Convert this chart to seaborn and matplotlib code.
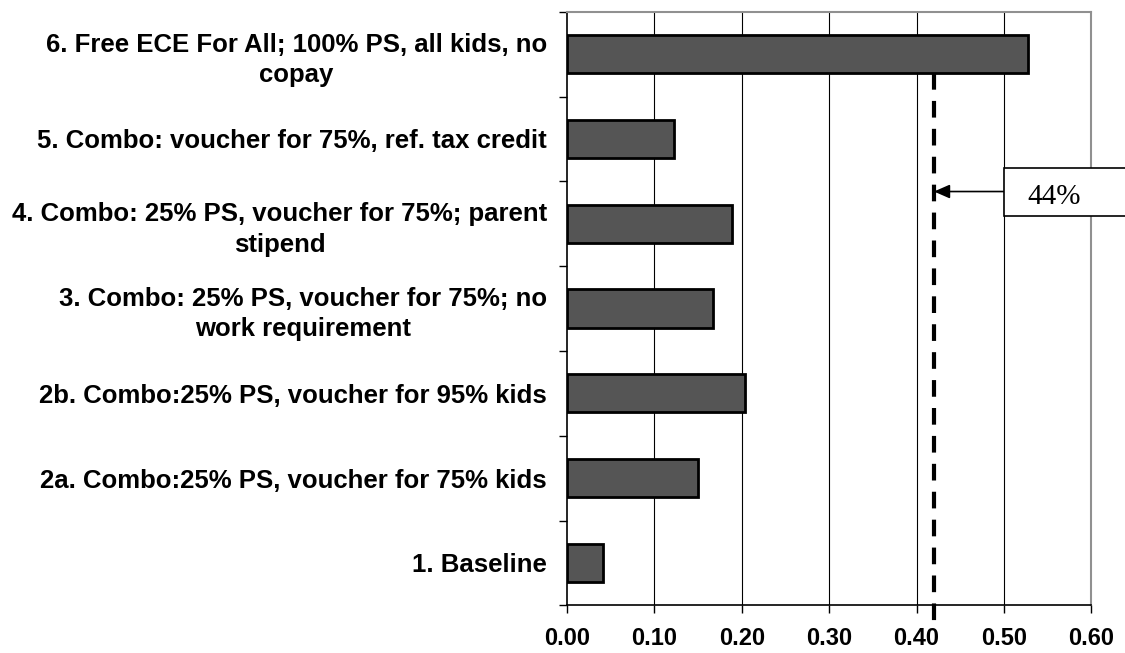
import matplotlib
matplotlib.use("Agg")
import matplotlib.pyplot as plt
import seaborn as sns
import pandas as pd
from matplotlib.patches import Rectangle
from matplotlib.ticker import FixedLocator

categories = [
    "6. Free ECE For All; 100% PS, all kids, no\ncopay",
    "5. Combo: voucher for 75%, ref. tax credit",
    "4. Combo: 25% PS, voucher for 75%; parent\nstipend",
    "3. Combo: 25% PS, voucher for 75%; no\nwork requirement",
    "2b. Combo:25% PS, voucher for 95% kids",
    "2a. Combo:25% PS, voucher for 75% kids",
    "1. Baseline",
]
values = [0.528, 0.123, 0.189, 0.167, 0.204, 0.150, 0.041]
ref_value = 0.42
ref_label = "44%"
x_ticks = [0.0, 0.1, 0.2, 0.3, 0.4, 0.5, 0.6]

sns.set_theme(style="white")
plt.rcParams["font.family"] = ["Liberation Sans", "DejaVu Sans"]
plt.rcParams["text.color"] = "black"
plt.rcParams["xtick.color"] = "black"
plt.rcParams["ytick.color"] = "black"

df = pd.DataFrame({"scenario": categories, "value": values})

fig = plt.figure(figsize=(11.25, 6.53), dpi=100)
ax = fig.add_axes([0.504, 0.073, 0.466, 0.909])

sns.barplot(data=df, x="value", y="scenario", orient="h", order=categories,
            color="#555555", saturation=1, width=0.45,
            edgecolor="black", linewidth=2, ax=ax, zorder=3)

ax.set_xlim(0, 0.6)
ax.set_ylim(len(categories) - 0.5, -0.5)
ax.set_xlabel("")
ax.set_ylabel("")

ax.xaxis.set_major_locator(FixedLocator(x_ticks))
ax.set_xticklabels([f"{t:.2f}" for t in x_ticks], fontsize=17, fontweight="bold")
ax.tick_params(axis="x", direction="out", length=6, width=1, color="black",
               pad=9.5, bottom=True)

# grid lines
for t in x_ticks[1:-1]:
    ax.axvline(t, color="black", linewidth=0.8, zorder=1)

# y tick labels
ax.set_yticks(range(len(categories)))
ax.set_yticklabels(categories, fontsize=18.5, fontweight="bold")
for lab in ax.get_yticklabels():
    lab.set_multialignment("center")
    lab.set_linespacing(1.33)
ax.tick_params(axis="y", which="major", length=0, pad=14.4, left=True)
ax.yaxis.set_minor_locator(FixedLocator([i - 0.5 for i in range(len(categories) + 1)]))
ax.tick_params(axis="y", which="minor", direction="out", length=6, width=1,
               color="black", left=True)

for side in ["left", "bottom"]:
    ax.spines[side].set_color("black")
    ax.spines[side].set_linewidth(1.2)
for side in ["top", "right"]:
    ax.spines[side].set_color("#909090")
    ax.spines[side].set_linewidth(1.5)

# dashed reference line
ax.plot([ref_value, ref_value], [0.22, 6.76], color="black", linewidth=3,
        linestyle=(0, (4, 2.7)), clip_on=False, zorder=4)

# arrow from the box to the line
ax.annotate("", xy=(ref_value, 1.62), xytext=(0.5006, 1.62),
            arrowprops=dict(arrowstyle="-|>,head_length=0.8,head_width=0.35",
                            color="black", lw=1.2, shrinkA=0, shrinkB=0),
            annotation_clip=False, zorder=5)

# label box
fig.patches.append(Rectangle((0.8924, 0.669), 0.2, 0.0735, transform=fig.transFigure,
                             facecolor="white", edgecolor="black", linewidth=1.2,
                             figure=fig))
fig.text(0.937, 0.698, ref_label, fontsize=21, family=["Liberation Serif", "DejaVu Serif"],
         ha="center", va="center")

fig.savefig("out.png", dpi=100)
